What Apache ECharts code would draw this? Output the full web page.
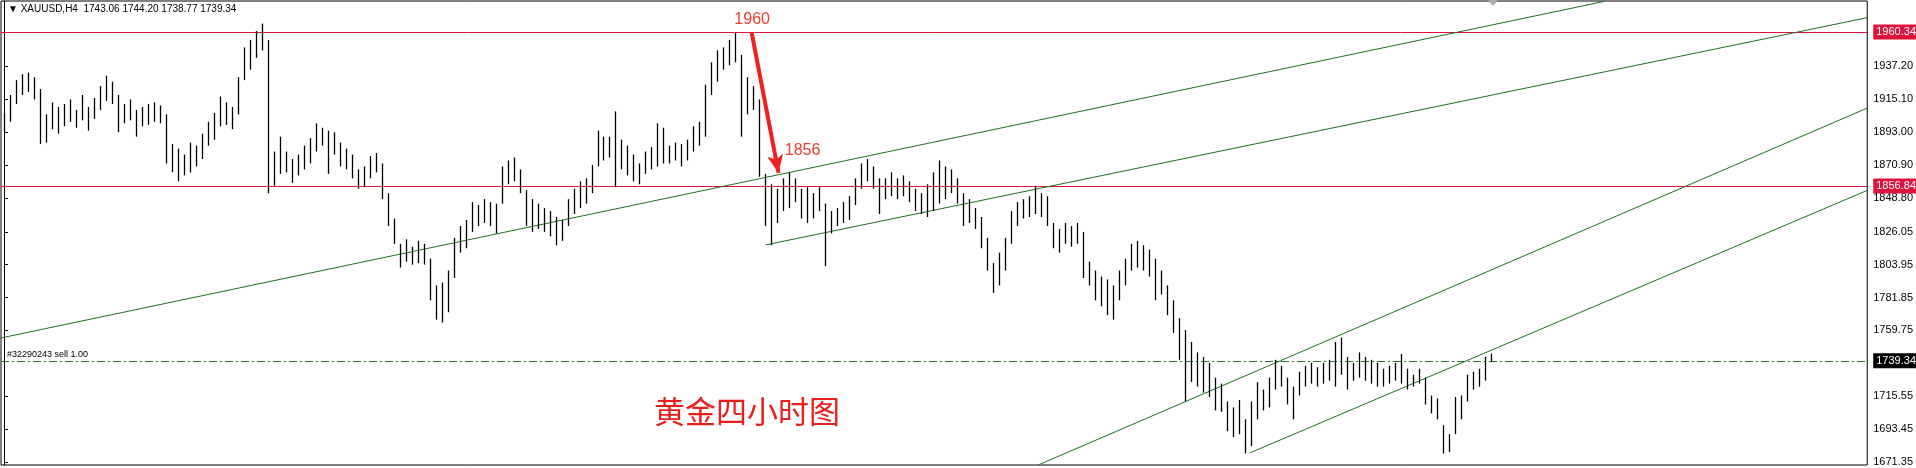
<!DOCTYPE html>
<html><head><meta charset="utf-8">
<script src="https://cdn.jsdelivr.net/npm/echarts@6/dist/echarts.min.js"></script>
<style>html,body{margin:0;padding:0;background:#fff}#c{width:1916px;height:468px}</style>
</head><body><div id="c"></div>
<script>
const highs=[1906,1918,1928,1932,1933,1930,1922,1905,1913,1910,1912,1915,1908,1918,1910,1916,1924,1931,1927,1918,1912,1915,1908,1910,1912,1913,1911,1905,1885,1882,1878,1886,1884,1892,1900,1906,1917,1913,1910,1930,1950,1955,1961,1966,1955,1880,1890,1880,1875,1878,1884,1889,1899,1896,1894,1893,1886,1882,1878,1868,1870,1877,1879,1872,1852,1835,1818,1821,1816,1820,1818,1808,1790,1792,1800,1822,1830,1834,1846,1844,1848,1846,1845,1870,1874,1876,1868,1854,1848,1845,1842,1840,1836,1834,1848,1855,1860,1862,1871,1894,1890,1890,1907,1888,1884,1878,1872,1880,1883,1899,1896,1884,1886,1885,1888,1897,1900,1925,1940,1948,1950,1955,1960,1945,1930,1924,1915,1865,1858,1855,1862,1866,1862,1855,1856,1852,1856,1845,1840,1842,1846,1850,1862,1872,1875,1870,1862,1862,1866,1862,1864,1860,1855,1852,1858,1866,1874,1870,1868,1862,1852,1848,1842,1836,1822,1805,1812,1822,1840,1846,1848,1850,1857,1852,1850,1832,1828,1832,1830,1832,1826,1806,1800,1796,1794,1790,1800,1808,1818,1820,1817,1814,1808,1800,1790,1780,1768,1760,1752,1745,1742,1738,1728,1724,1712,1708,1713,1700,1712,1725,1720,1728,1740,1736,1728,1722,1732,1736,1738,1735,1738,1740,1752,1755,1742,1738,1745,1742,1740,1738,1734,1736,1738,1744,1734,1730,1734,1728,1716,1714,1696,1690,1715,1716,1730,1732,1734,1742,1744.2];
const lows=[1893,1900,1912,1918,1920,1915,1885,1886,1895,1892,1897,1900,1896,1901,1894,1902,1908,1914,1912,1893,1899,1901,1890,1897,1898,1900,1899,1872,1866,1860,1864,1866,1870,1875,1884,1888,1897,1898,1895,1905,1928,1935,1943,1948,1852,1857,1865,1866,1859,1864,1868,1872,1880,1884,1865,1878,1870,1868,1862,1855,1856,1862,1866,1848,1830,1818,1802,1806,1804,1805,1804,1780,1767,1765,1772,1795,1812,1815,1826,1830,1832,1830,1825,1845,1858,1860,1852,1830,1826,1828,1826,1823,1817,1820,1830,1838,1842,1845,1852,1870,1874,1876,1856,1868,1864,1860,1858,1865,1868,1870,1872,1872,1874,1870,1874,1880,1884,1890,1918,1927,1935,1938,1940,1890,1905,1908,1863,1830,1817,1832,1840,1842,1846,1835,1832,1835,1840,1803,1825,1830,1832,1834,1844,1855,1860,1855,1838,1848,1850,1848,1850,1846,1840,1838,1836,1840,1845,1848,1852,1845,1830,1832,1828,1815,1800,1785,1790,1800,1818,1830,1835,1836,1838,1836,1830,1815,1812,1818,1816,1818,1795,1790,1780,1776,1770,1767,1780,1790,1800,1802,1800,1796,1780,1784,1770,1758,1740,1712,1725,1722,1718,1715,1706,1705,1692,1688,1690,1677,1682,1700,1706,1708,1720,1722,1710,1700,1716,1722,1724,1722,1724,1726,1722,1730,1720,1726,1728,1726,1724,1722,1722,1724,1726,1724,1720,1722,1724,1710,1704,1700,1677,1678,1690,1700,1712,1720,1722,1726,1738.77];
const yTicks=[1937.20,1915.10,1893.00,1870.90,1848.80,1826.05,1803.95,1781.85,1759.75,1715.55,1693.45,1671.35];
const levels={top:1960.34,mid:1856.84,sell:1739.34};
const trendLines=[[[-0.5,1754.7],[267,1981]],[[127,1817.2],[310.8,1970]],[[172.5,1669.3],[310.8,1909.2]],[[207.8,1677.4],[310.8,1853.9]]];
const arrowLine=[[124.7,1960.34],[129.2,1865.6]];
const notes=[{t:'1960',p:[124.8,1968.5]},{t:'1856',p:[133.2,1880.5]}];
const bars=highs.map((h,i)=>[i,lows[i],h]);
const chart=echarts.init(document.getElementById('c'));
const red='#dc143c';
const green='#1f6f1f';
chart.setOption({
 animation:false,
 grid:{left:1,right:48,top:1,bottom:3,show:true,borderColor:'#000',borderWidth:1},
 xAxis:{type:'value',min:-0.5,max:310.8,show:false},
 yAxis:{type:'value',position:'right',min:1669.3,max:1981.2,splitLine:{show:false},
  axisLine:{show:true,lineStyle:{color:'#000'}},
  axisTick:{show:true,length:4,customValues:yTicks,lineStyle:{color:'#000'}},
  axisLabel:{customValues:yTicks,formatter:v=>v.toFixed(2),color:'#000',fontSize:11,fontFamily:'Arial',margin:6}},
 graphic:[
  {type:'text',left:8,top:4,style:{text:'▼ XAUUSD,H4  1743.06 1744.20 1738.77 1739.34',font:'10px Arial',fill:'#000'}},
  {type:'text',left:7,top:350,style:{text:'#32290243 sell 1.00',font:'9px Arial',fill:'#000'}},
  {type:'text',left:654,top:396,style:{text:'黄金四小时图',font:'31px "Noto Sans CJK SC"',fill:'#e8201c'}},
  {type:'polygon',shape:{points:[[1488,0],[1498,0],[1493,6]]},style:{fill:'#aaa'}}
 ],
 series:[
  {type:'custom',data:bars,encode:{x:0,y:[1,2]},renderItem:(params,api)=>{
    const a=api.coord([api.value(0),api.value(1)]),b=api.coord([api.value(0),api.value(2)]);
    return {type:'line',shape:{x1:Math.round(a[0])+0.5,y1:a[1],x2:Math.round(b[0])+0.5,y2:b[1]},style:{stroke:'#000',lineWidth:1.3}};
  },z:5},
  {type:'line',data:[],markLine:{silent:true,symbol:'none',animation:false,
    data:[
     {yAxis:levels.top,lineStyle:{color:red,width:1,type:'solid'},label:{show:true,position:'end',formatter:'1960.34',backgroundColor:red,color:'#fff',fontSize:11,fontFamily:'Arial',padding:[2,3],distance:6}},
     {yAxis:levels.mid,lineStyle:{color:red,width:1,type:'solid'},label:{show:true,position:'end',formatter:'1856.84',backgroundColor:red,color:'#fff',fontSize:11,fontFamily:'Arial',padding:[2,3],distance:6}},
     {yAxis:levels.sell,lineStyle:{color:'#2f6f2f',width:1,type:[8,3,2,3]},label:{show:true,position:'end',formatter:'1739.34',backgroundColor:'#000',color:'#fff',fontSize:11,fontFamily:'Arial',padding:[2,3],distance:6}}
    ]}},
  {type:'line',data:[],markLine:{silent:true,symbol:'none',animation:false,
    lineStyle:{color:green,width:1,type:'solid'},label:{show:false},
    data:trendLines.map(l=>[{coord:l[0]},{coord:l[1]}])}},
  {type:'line',data:[],markLine:{silent:true,symbol:['none','arrow'],symbolSize:[12,18],
    data:[[{coord:arrowLine[0],lineStyle:{color:'#f02020',width:4,type:'solid'},label:{show:false}},{coord:arrowLine[1]}]]},
   markPoint:{symbol:'circle',symbolSize:1,itemStyle:{color:'transparent'},
    data:notes.map(n=>({coord:n.p,label:{show:true,formatter:n.t,color:'#e8402c',fontSize:16,fontFamily:'Arial'}}))}}
 ]
});
</script></body></html>
